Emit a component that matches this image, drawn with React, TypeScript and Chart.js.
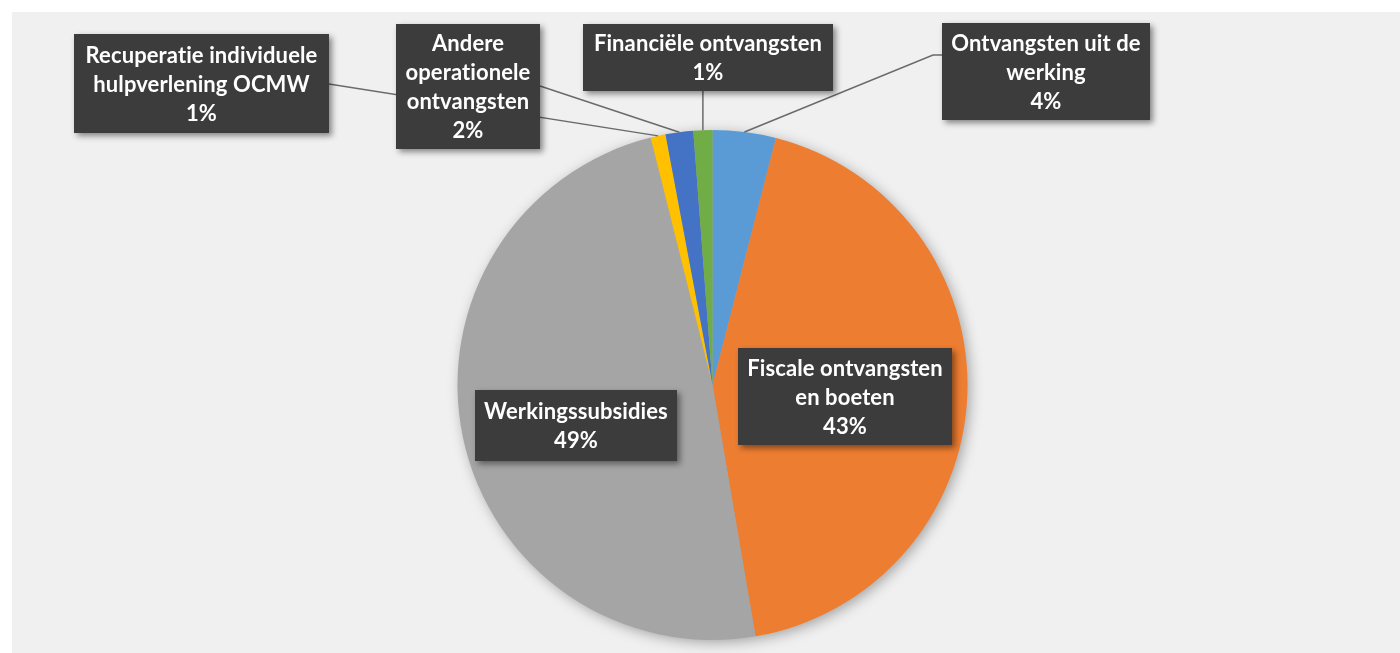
import React, { useEffect, useRef } from "react";
import { Chart, registerables } from "chart.js";

Chart.register(...registerables);

// ---- data ----
const categories: string[] = [
  "Ontvangsten uit de werking",
  "Fiscale ontvangsten en boeten",
  "Werkingssubsidies",
  "Recuperatie individuele hulpverlening OCMW",
  "Andere operationele ontvangsten",
  "Financiële ontvangsten",
];
const shares: number[] = [4.0, 43.3, 48.8, 0.95, 1.75, 1.2];
const colors: string[] = ["#5B9BD5", "#ED7D31", "#A5A5A5", "#FFC000", "#4472C4", "#70AD47"];

// ---- label layout (box position, optional leader attach point) ----
type Box = { x: number; y: number; w: number; h: number; attach?: [number, number]; elbow?: [number, number]; vertical?: boolean };
const labelBoxes: Box[] = [
  { x: 942, y: 23, w: 208, h: 97, attach: [942, 55], elbow: [933, 55] },
  { x: 738, y: 348, w: 214, h: 97 },
  { x: 475, y: 390, w: 202, h: 71 },
  { x: 74, y: 34, w: 255, h: 99, attach: [329, 84] },
  { x: 396, y: 24, w: 144, h: 125, attach: [540, 86] },
  { x: 583, y: 24, w: 250, h: 67, vertical: true },
];

const FONT = "bold 22px Lato, 'Open Sans', sans-serif";
const LINE_H = 29;

function wrap(ctx: CanvasRenderingContext2D, text: string, maxW: number): string[] {
  const words = text.split(" ");
  const lines: string[] = [];
  let cur = "";
  for (const w of words) {
    const t = cur ? cur + " " + w : w;
    if (ctx.measureText(t).width > maxW && cur) {
      lines.push(cur);
      cur = w;
    } else cur = t;
  }
  if (cur) lines.push(cur);
  return lines;
}

const bgPlugin = {
  id: "bg",
  beforeDraw(chart: any) {
    const { ctx, width, height } = chart;
    ctx.save();
    ctx.fillStyle = "#ffffff";
    ctx.fillRect(0, 0, width, height);
    ctx.fillStyle = "#F0F0F0";
    ctx.fillRect(12, 12, width - 12, height - 12);
    ctx.restore();
  },
  beforeDatasetsDraw(chart: any) {
    const arc = chart.getDatasetMeta(0).data[0];
    if (!arc) return;
    const { ctx } = chart;
    ctx.save();
    ctx.shadowColor = "rgba(0,0,0,0.35)";
    ctx.shadowBlur = 14;
    ctx.shadowOffsetX = 3;
    ctx.shadowOffsetY = 3;
    ctx.fillStyle = "#A5A5A5";
    ctx.beginPath();
    ctx.arc(arc.x, arc.y, arc.outerRadius - 1, 0, Math.PI * 2);
    ctx.fill();
    ctx.restore();
  },
};

const labelPlugin = {
  id: "labels",
  afterDatasetsDraw(chart: any) {
    const { ctx } = chart;
    const meta = chart.getDatasetMeta(0);
    const total = shares.reduce((a, b) => a + b, 0);
    ctx.save();
    // leader lines first
    ctx.strokeStyle = "#6A6A6A";
    ctx.lineWidth = 1.5;
    meta.data.forEach((arc: any, i: number) => {
      const b = labelBoxes[i];
      if (!b.attach && !b.vertical) return;
      const mid = (arc.startAngle + arc.endAngle) / 2;
      const px = arc.x + Math.cos(mid) * arc.outerRadius;
      const py = arc.y + Math.sin(mid) * arc.outerRadius;
      ctx.beginPath();
      ctx.moveTo(px, py);
      if (b.vertical) {
        ctx.lineTo(px, b.y + b.h);
      } else {
        if (b.elbow) ctx.lineTo(b.elbow[0], b.elbow[1]);
        ctx.lineTo(b.attach![0], b.attach![1]);
      }
      ctx.stroke();
    });
    // boxes
    ctx.font = FONT;
    try { (ctx as any).letterSpacing = "0.1px"; } catch (e) {}
    meta.data.forEach((arc: any, i: number) => {
      const b = labelBoxes[i];
      ctx.save();
      ctx.shadowColor = "rgba(0,0,0,0.45)";
      ctx.shadowBlur = 6;
      ctx.shadowOffsetX = 3;
      ctx.shadowOffsetY = 3;
      ctx.fillStyle = "#3C3C3C";
      ctx.fillRect(b.x, b.y, b.w, b.h);
      ctx.restore();
      const lines = wrap(ctx, categories[i], b.w - 10);
      lines.push(Math.round((shares[i] / total) * 100) + "%");
      const cx = b.x + b.w / 2;
      const cy = b.y + b.h / 2;
      const startY = cy - ((lines.length - 1) * LINE_H) / 2;
      ctx.fillStyle = "#FFFFFF";
      ctx.textAlign = "center";
      ctx.textBaseline = "middle";
      lines.forEach((ln, k) => ctx.fillText(ln, cx, startY + k * LINE_H + 1));
    });
    ctx.restore();
  },
};

export default function App() {
  const ref = useRef<HTMLCanvasElement>(null);
  useEffect(() => {
    document.body.style.margin = "0";
    const chart = new Chart(ref.current!, {
      type: "pie",
      data: {
        labels: categories,
        datasets: [
          {
            data: shares,
            backgroundColor: colors,
            borderWidth: 0,
          },
        ],
      },
      options: {
        animation: false,
        responsive: false,
        devicePixelRatio: 1,
        layout: { padding: { top: 130, bottom: 13, left: 25, right: 0 } },
        plugins: { legend: { display: false }, tooltip: { enabled: false } },
      },
      plugins: [bgPlugin, labelPlugin],
    });
    return () => chart.destroy();
  }, []);
  return (
    <div style={{ position: "absolute", left: 0, top: 0, width: 1400, height: 653 }}>
      <canvas ref={ref} width={1400} height={653} />
    </div>
  );
}
